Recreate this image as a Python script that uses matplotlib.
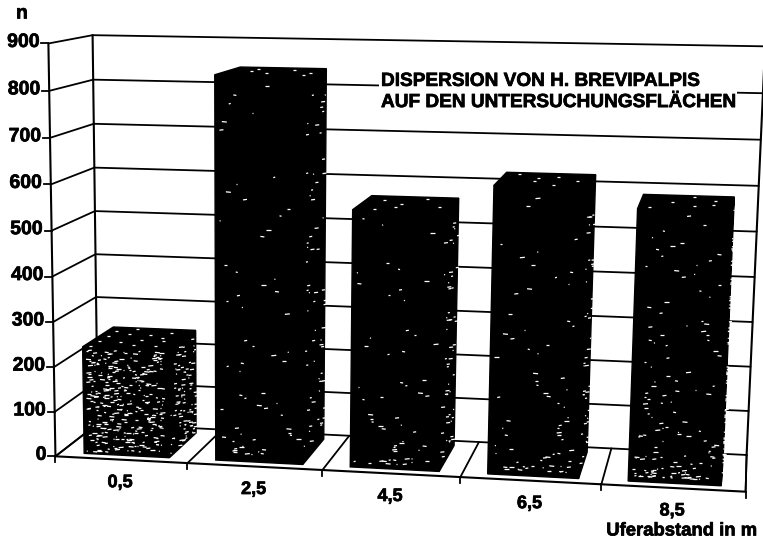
import matplotlib
matplotlib.use("Agg")
import matplotlib.pyplot as plt
import matplotlib.patheffects as pe
import numpy as np
from matplotlib.collections import LineCollection
from matplotlib.patches import Polygon

plt.rcParams['font.family'] = ['Liberation Sans', 'DejaVu Sans']

# data
categories = ['0,5', '2,5', '4,5', '6,5', '8,5']
values = [240, 838, 560, 620, 580]
y_ticks = [0, 100, 200, 300, 400, 500, 600, 700, 800, 900]
title_lines = ['DISPERSION VON H. BREVIPALPIS', 'AUF DEN UNTERSUCHUNGSFLÄCHEN']
x_title = 'Uferabstand in m'
y_title = 'n'

# speckle amount per bar (front, side)
speckle = [(300, 90), (60, 60), (55, 50), (70, 40), (130, 55)]
speckle_pow = [1.0, 2.2, 2.2, 2.4, 2.6]

# perspective of the box: (category pos, value, depth) -> pixel
anchors = [
    ((0, 0, 0), (57, 455)), ((1, 0, 0), (187, 463)), ((2, 0, 0), (322, 470)),
    ((3, 0, 0), (460, 478)), ((4, 0, 0), (601, 485)), ((5, 0, 0), (746, 492)),
    ((0, 0, 1), (97, 425)), ((5, 0, 1), (747, 453)),
    ((0, 900, 0), (48, 43)), ((0, 900, 1), (93, 35)), ((5, 900, 1), (765, 47)),
]
rows = []
rhs = []
for (u, v, w), (px, py) in anchors:
    v = v / 900
    rows.append([u, v, w, 1, 0, 0, 0, 0, -px * u, -px * v, -px * w])
    rhs.append(px)
    rows.append([0, 0, 0, 0, u, v, w, 1, -py * u, -py * v, -py * w])
    rhs.append(py)
h = np.linalg.lstsq(np.array(rows, float), np.array(rhs, float), rcond=None)[0]


def project(u, v, w):
    v = v / 900
    d = h[8] * u + h[9] * v + h[10] * w + 1
    return ((h[0] * u + h[1] * v + h[2] * w + h[3]) / d,
            (h[4] * u + h[5] * v + h[6] * w + h[7]) / d)


fig = plt.figure(figsize=(7.63, 5.46), dpi=100)
ax = fig.add_axes([0, 0, 1, 1])
ax.set_xlim(0, 763)
ax.set_ylim(546, 0)
ax.axis('off')
heavy = [pe.withStroke(linewidth=0.5, foreground='black')]


def seg(a, b, lw=1.3, z=1):
    p, q = project(*a), project(*b)
    ax.plot([p[0], q[0]], [p[1], q[1]], color='black', lw=lw, zorder=z,
            solid_capstyle='round')


# walls and grid
for t in y_ticks:
    seg((0, t, 0), (0, t, 1))
    seg((0, t, 1), (5, t, 1))
    px, py = project(0, t, 0)
    ax.plot([px - 7, px], [py, py], color='black', lw=1.3)
    ax.text(px - 9, py - 1, str(t), ha='right', va='center', fontsize=14,
            fontweight='bold', path_effects=heavy)
seg((0, 0, 0), (0, 900, 0), lw=1.5)
seg((0, 0, 1), (0, 900, 1), lw=1.5)
seg((5, 0, 1), (5, 900, 1), lw=1.5)
seg((5, 0, 0), (5, 0, 1), lw=1.3)
seg((0, 0, 0), (5, 0, 0), lw=1.5)
for i in range(6):
    seg((i, 0, 0), (i, 0, 1))
    px, py = project(i, 0, 0)
    ax.plot([px, px], [py, py + 6], color='black', lw=1.3)

# bars
u0, u1 = 0.18, 0.83
w0, w1 = 0.12, 0.86
for i, val in enumerate(values):
    a, b = i + u0, i + u1
    front = [project(a, 0, w0), project(b, 0, w0), project(b, val, w0), project(a, val, w0)]
    side = [project(b, 0, w0), project(b, 0, w1), project(b, val, w1), project(b, val, w0)]
    top = [project(a, val, w0), project(b, val, w0), project(b, val, w1), project(a, val, w1)]
    for face in (front, side, top):
        ax.add_patch(Polygon(face, closed=True, facecolor='black', edgecolor='black',
                             lw=1, zorder=3))
    # white speckles, sequence is fixed, denser near the floor
    dashes = []
    n_front, n_side = speckle[i]
    for k in range(n_front):
        s = (k * k * 0.0137 + k * 0.7548777 + i * 0.31) % 1
        r = ((k * 0.5698403 + i * 0.17) % 1) ** speckle_pow[i]
        x, y = project(a + 0.02 + s * (b - a - 0.07), val * (0.02 + r * 0.96), w0)
        size = 1 + (k * 7 % 5)
        dashes.append([(x, y), (x + size, y + (k % 3 - 1) * 0.5)])
    for k in range(n_side):
        s = (k * k * 0.0219 + k * 0.7548777 + i * 0.53) % 1
        r = ((k * 0.5698403 + i * 0.41) % 1) ** 1.3
        x, y = project(b, val * (0.03 + r * 0.94), w0 + 0.03 + s * (w1 - w0 - 0.06))
        size = 1 + (k * 5 % 4)
        dashes.append([(x, y), (x + size, y - 0.5)])
    for k in range(14 if i == 0 else 6):
        s = (k * 0.7548777 + i * 0.2) % 1
        r = (k * 0.5698403 + i * 0.6) % 1
        x, y = project(a + 0.03 + s * (b - a - 0.06), val, w0 + 0.05 + r * (w1 - w0 - 0.1))
        dashes.append([(x, y), (x + 3, y)])
    ax.add_collection(LineCollection(dashes, colors='white', linewidths=0.9, zorder=4))

    px, py = project(i + 0.5, 0, 0)
    ax.text(px - 1, py + 23, categories[i], ha='center', va='center', fontsize=13,
            fontweight='bold', path_effects=heavy)

# texts
ax.text(381, 92, title_lines[0] + '\n' + title_lines[1], ha='left', va='center',
        fontsize=13.7, fontweight='bold', linespacing=1.32, zorder=2,
        path_effects=heavy, bbox=dict(facecolor='white', edgecolor='none', pad=1.5))
ax.text(757, 531, x_title, ha='right', va='center', fontsize=13.3, fontweight='bold',
        path_effects=heavy)
ax.text(22, 14, y_title, ha='center', va='center', fontsize=14, fontweight='bold',
        path_effects=heavy)

fig.savefig('out.png', dpi=100)
